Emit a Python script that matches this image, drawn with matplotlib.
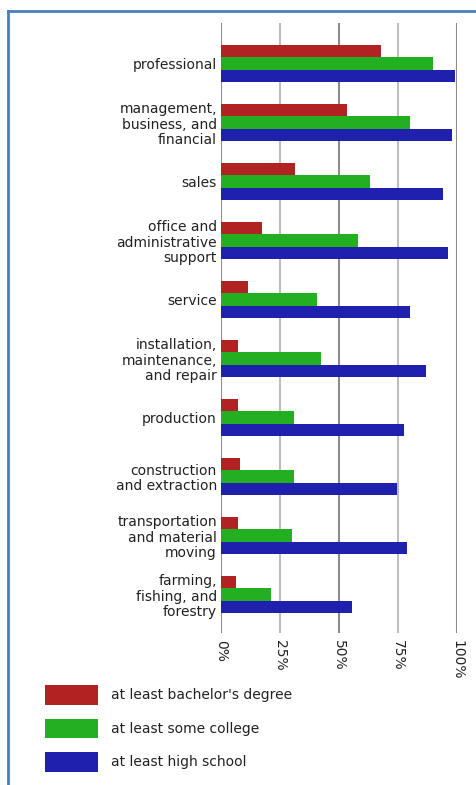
import numpy as np
import matplotlib.pyplot as plt
from matplotlib.lines import Line2D

occupations = ["professional",
               "management,\nbusiness, and\nfinancial",
               "sales",
               "office and\nadministrative\nsupport",
               "service",
               "installation,\nmaintenance,\nand repair",
               "production",
               "construction\nand extraction",
               "transportation\nand material\nmoving",
               "farming,\nfishing, and\nforestry"]

bachelor = [68, 53.5, 31.5, 17.5, 11.5, 7, 7, 8, 7, 6.5]
college = [90, 80, 63, 58, 40.5, 42.5, 31, 31, 30, 21]
high_school = [99, 98, 94, 96, 80, 87, 77.5, 74.5, 79, 55.5]

series = ["at least bachelor's degree", "at least some college", "at least high school"]
colors = ["#b22222", "#22b022", "#2020ae"]
ticks = [0, 25, 50, 75, 100]
tick_labels = ["0%", "25%", "50%", "75%", "100%"]

W, H = 476, 785
fig = plt.figure(figsize=(W / 100, H / 100), dpi=100)
ax = fig.add_axes([221 / W, 1 - 633 / H, 236 / W, 610 / H])

y = np.arange(len(occupations))
bh = 0.212
for k, vals in enumerate([bachelor, college, high_school]):
    ax.barh(y + (k - 1) * bh, vals, height=bh, color=colors[k], label=series[k],
            zorder=3)

for t in ticks:
    c = "#bdbdbd" if t in (25, 75) else "#8c8c8c"
    ax.axvline(t, color=c, lw=1.5, zorder=1)

ax.set_xlim(0, 100)
ax.set_ylim(9.653, -0.686)
for s in ax.spines.values():
    s.set_visible(False)

ax.set_yticks(y)
ax.set_yticklabels(occupations, fontsize=10, color="#222222", linespacing=1.1,
                   ha="right", multialignment="right")
ax.set_xticks(ticks)
ax.set_xticklabels(tick_labels, fontsize=10, color="#222222", rotation=-90,
                   va="top", ha="center")
ax.tick_params(axis="both", length=0)
ax.tick_params(axis="y", pad=3)
ax.tick_params(axis="x", pad=5)

fig.legend(loc="upper left", bbox_to_anchor=(45 / W, 1 - 685 / H), frameon=False,
           fontsize=10, handlelength=3.8, handleheight=1.8, labelspacing=1.0,
           handletextpad=0.95, borderpad=0, borderaxespad=0, labelcolor="#222222")

# blue page border
fig.add_artist(Line2D([8 / W, 1], [1 - 11 / H, 1 - 11 / H], color="#4a7ebb", lw=2))
fig.add_artist(Line2D([8 / W, 8 / W], [0, 1 - 11 / H], color="#4a7ebb", lw=2))

fig.savefig("out.png", dpi=100)
